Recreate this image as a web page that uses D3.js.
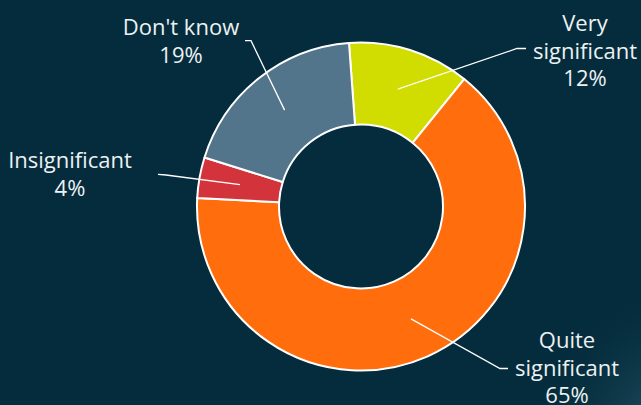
<!DOCTYPE html>
<html>
<head>
<meta charset="utf-8">
<script src="https://cdn.jsdelivr.net/npm/d3@7"></script>
<style>
  html, body { margin: 0; padding: 0; background: #042c3d; }
  svg { display: block; }
</style>
</head>
<body>
<div id="wrapper"></div>
<script>
// Data
const categories = ["Very significant", "Quite significant", "Insignificant", "Don't know"]
const values = [12, 65, 4, 19]
const colors = ["#d1dd00", "#ff6d0d", "#d3333a", "#52758b"]
// label text lines
const labelLines = [["Very", "significant"], ["Quite", "significant"], ["Insignificant"], ["Don't know"]]

// label layout (text centre, first baseline, leader elbow, leader end)
const labelLayout = [
  {tx: 585, ty: 31, elbow: [517, 48.5], end: [526, 48.5]},
  {tx: 567, ty: 348, elbow: [500, 368.5], end: [508, 368.5]},
  {tx: 70, ty: 168, elbow: [166, 175], end: [158, 174.3]},
  {tx: 181, ty: 35, elbow: [251, 40.7], end: [245, 40.7]}
]

const dimensions = {
  width: 641, height: 405,
  cx: 361, cy: 206.5,
  outer: 164, inner: 82,
  lineHeight: 27.5
}

const svg = d3.select("#wrapper").append("svg")
  .attr("width", dimensions.width)
  .attr("height", dimensions.height)

// background + soft corner glow
const defs = svg.append("defs")
const glow = defs.append("radialGradient").attr("id", "glow")
  .attr("gradientUnits", "userSpaceOnUse")
  .attr("cx", 680).attr("cy", 430).attr("r", 150)
glow.append("stop").attr("offset", "0%").attr("stop-color", "#2b5a69").attr("stop-opacity", 1)
glow.append("stop").attr("offset", "100%").attr("stop-color", "#042c3d").attr("stop-opacity", 0)

svg.append("rect").attr("width", dimensions.width).attr("height", dimensions.height).attr("fill", "#042c3d")
svg.append("rect").attr("width", dimensions.width).attr("height", dimensions.height)
  .attr("fill", "url(#glow)")

const bounds = svg.append("g")
  .attr("transform", `translate(${dimensions.cx},${dimensions.cy})`)

const startAngle = -4.2 * Math.PI / 180
const pie = d3.pie().sort(null).value(d => d)
  .startAngle(startAngle).endAngle(startAngle + 2 * Math.PI)
const arcs = pie(values)

const arc = d3.arc().innerRadius(dimensions.inner).outerRadius(dimensions.outer)

bounds.selectAll("path.slice").data(arcs).enter().append("path")
  .attr("class", "slice")
  .attr("d", arc)
  .attr("fill", (d, i) => colors[i])
  .attr("stroke", "#ffffff")
  .attr("stroke-width", 2)
  .attr("stroke-linejoin", "round")

// leader lines
const line = d3.line()
svg.selectAll("path.leader").data(arcs).enter().append("path")
  .attr("class", "leader")
  .attr("d", (d, i) => {
    const c = arc.centroid(d)
    const L = labelLayout[i]
    return line([[c[0] + dimensions.cx, c[1] + dimensions.cy], L.elbow, L.end])
  })
  .attr("fill", "none")
  .attr("stroke", "#ffffff")
  .attr("stroke-width", 1.3)

// labels
const labels = svg.selectAll("text.label").data(arcs).enter().append("text")
  .attr("class", "label")
  .attr("text-anchor", "middle")
  .attr("fill", "#edf1f2")
  .style("font-family", "'Open Sans', sans-serif")
  .style("font-size", "22px")

labels.each(function(d, i) {
  const L = labelLayout[i]
  const lines = labelLines[i].concat([values[i] + "%"])
  d3.select(this).selectAll("tspan").data(lines).enter().append("tspan")
    .attr("x", L.tx)
    .attr("y", (t, j) => L.ty + j * dimensions.lineHeight)
    .text(t => t)
})
</script>
</body>
</html>
